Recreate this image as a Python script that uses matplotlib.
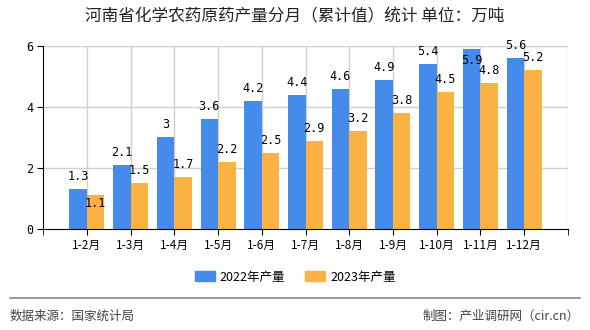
import matplotlib
matplotlib.use("Agg")
import matplotlib.pyplot as plt
from matplotlib.patches import Patch
from matplotlib.lines import Line2D
import numpy as np

# данные
months = ["1-2月", "1-3月", "1-4月", "1-5月", "1-6月", "1-7月",
          "1-8月", "1-9月", "1-10月", "1-11月", "1-12月"]
prod2022 = [1.3, 2.1, 3, 3.6, 4.2, 4.4, 4.6, 4.9, 5.4, 5.9, 5.6]
prod2023 = [1.1, 1.5, 1.7, 2.2, 2.5, 2.9, 3.2, 3.8, 4.5, 4.8, 5.2]
series_names = ["2022年产量", "2023年产量"]

plt.rcParams['font.family'] = ['Noto Sans CJK SC', 'DejaVu Sans']

blue = '#458beb'
orange = '#fbb242'

fig = plt.figure(figsize=(5.9, 3.3), dpi=100)
ax = fig.add_axes([0.0729, 0.3061, 0.8898, 0.5545])

x = np.arange(1, len(months) + 1)
w = 0.4
ax.bar(x - w / 2, prod2022, width=w, color=blue, zorder=3)
ax.bar(x + w / 2, prod2023, width=w, color=orange, zorder=3)

# подписи значений над столбцами (пара штук внутри столбца, как на оригинале)
num_font = ['DejaVu Sans Mono']
for i in range(len(months)):
    off = -8 if prod2022[i] >= 5.8 else 9
    ax.annotate(str(prod2022[i]), (x[i] - w / 2, prod2022[i]), xytext=(0, off),
                textcoords='offset points', ha='center', va='center',
                fontsize=8.5, family=num_font, zorder=5)
    off = -6 if prod2023[i] <= 1.2 else 9
    ax.annotate(str(prod2023[i]), (x[i] + w / 2, prod2023[i]), xytext=(0, off),
                textcoords='offset points', ha='center', va='center',
                fontsize=8.5, family=num_font, zorder=5)

ax.set_xlim(0, len(months) + 1)
ax.set_ylim(0, 6)
ax.set_yticks([0, 2, 4, 6])
ax.set_yticklabels(['0', '2', '4', '6'], family=num_font, fontsize=8.5)
ax.set_xticks(x)
ax.set_xticklabels(months, fontsize=8.5)
ax.set_xticks([0, len(months) + 1], minor=True)
ax.tick_params(axis='x', which='both', direction='out', length=4, color='black')
ax.tick_params(axis='y', direction='out', length=4, color='black', pad=3)

# сетка
for v in [2, 4, 6]:
    ax.axhline(v, color='#d0d0d0', lw=1, zorder=1)
for v in list(x) + [len(months) + 1]:
    ax.axvline(v, color='#d0d0d0', lw=1, zorder=1)

for s in ['top', 'right']:
    ax.spines[s].set_visible(False)
ax.spines['left'].set_color('black')
ax.spines['bottom'].set_color('black')
ax.spines['bottom'].set_zorder(4)

fig.text(0.5, 0.948, "河南省化学农药原药产量分月（累计值）统计 单位：万吨",
         ha='center', va='center', fontsize=12, color='#222222')

handles = [Patch(color=blue), Patch(color=orange)]
fig.legend(handles, series_names, loc='center', bbox_to_anchor=(0.5, 1 - 277 / 330),
           ncol=2, frameon=False, fontsize=9, handlelength=1.6, handleheight=0.8,
           columnspacing=1.6, handletextpad=0.4)

fig.add_artist(Line2D([10 / 590, 580 / 590], [1 - 298 / 330, 1 - 298 / 330],
                      color='#888888', lw=1.2))
fig.text(10 / 590, 1 - 316 / 330, "数据来源：国家统计局", ha='left', va='center',
         fontsize=9, color='#444444')
fig.text(580 / 590, 1 - 316 / 330, "制图：产业调研网（cir.cn）", ha='right', va='center',
         fontsize=9, color='#444444')

fig.savefig("out.png", dpi=100)
